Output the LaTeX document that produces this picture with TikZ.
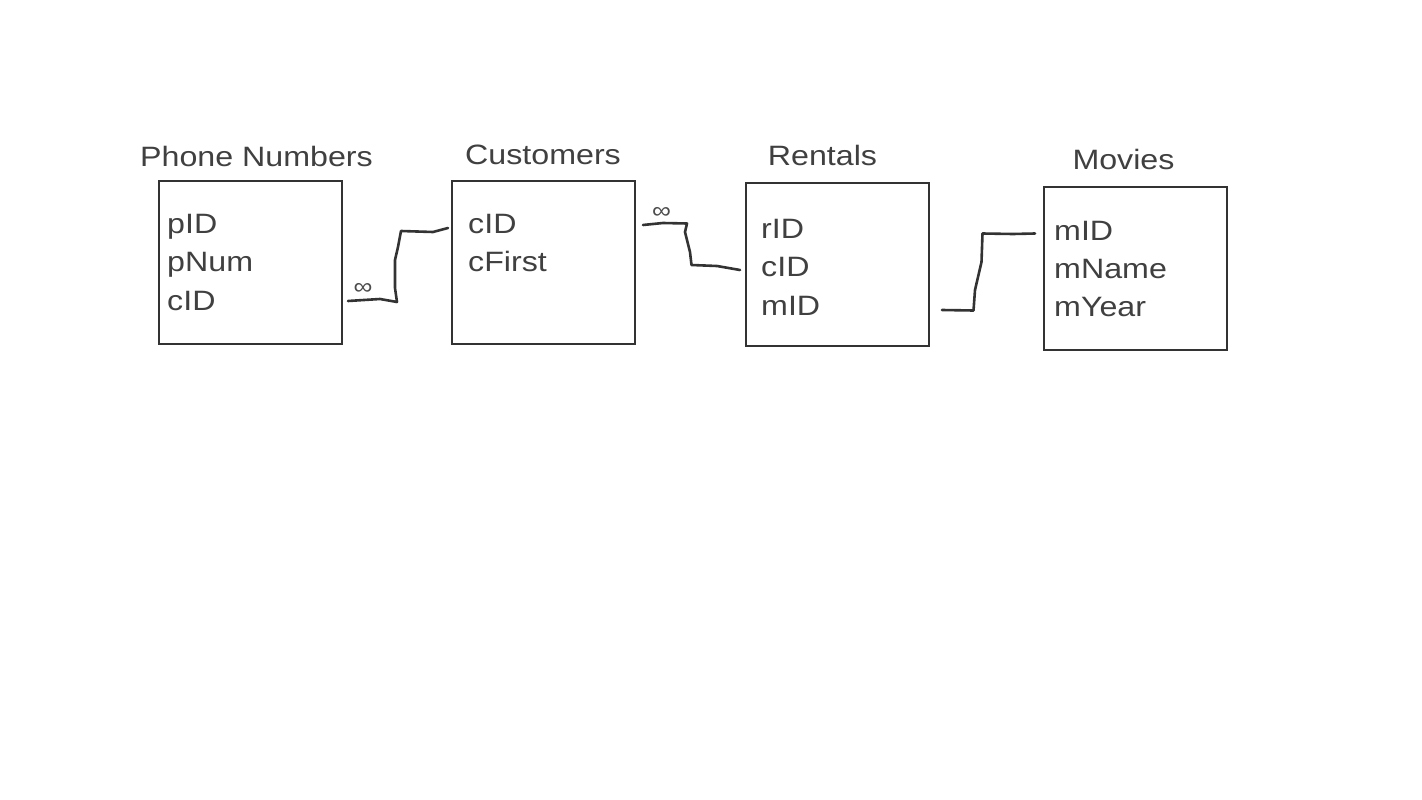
\documentclass[tikz,border=0pt]{standalone}
\usepackage{fontspec}
\newfontfamily\slidefont[FakeStretch=1.15]{Liberation Sans}
\begin{document}
\begin{tikzpicture}[x=1pt,y=-1pt,
    table/.style={draw=black!80, line width=2pt, minimum width=183pt, minimum height=163pt, inner sep=0pt, outer sep=0pt},
    title/.style={anchor=base, inner sep=0pt, text=black!75, font=\slidefont\fontsize{28}{34}\selectfont},
    field/.style={anchor=base west, inner sep=0pt, text=black!75, font=\slidefont\fontsize{28}{34}\selectfont},
    link/.style={draw=black!80, line width=2.6pt, line join=round, line cap=round},
    many/.style={inner sep=0pt, text=black!70, font=\slidefont\fontsize{23}{26}\selectfont}]
            \useasboundingbox (0,0) rectangle (1422,800);
            % tables
            \node[table] (phone) at (250.5,262.5) {};
            \node[table] (cust) at (543.5,262.5) {};
            \node[table] (rent) at (837.5,264.5) {};
            \node[table] (movie) at (1135.5,268.5) {};
            % titles
            \node[title] (tphone) at (256.5,166) {Phone Numbers};
            \node[title] (tcust) at (543,164) {Customers};
            \node[title] (trent) at (822.5,165) {Rentals};
            \node[title] (tmovie) at (1123.5,169) {Movies};
            % fields
            \node[field] (ppid) at (167,233) {pID};
            \node[field] (ppnum) at (167,271.5) {pNum};
            \node[field] (pcid) at (167,310) {cID};
            \node[field] (ccid) at (468,233) {cID};
            \node[field] (ccfirst) at (468,271.5) {cFirst};
            \node[field] (rrid) at (761,238) {rID};
            \node[field] (rcid) at (761,276.5) {cID};
            \node[field] (rmid) at (761,315) {mID};
            \node[field] (mmid) at (1054,240) {mID};
            \node[field] (mmname) at (1054,278) {mName};
            \node[field] (mmyear) at (1054,316.5) {mYear};
            % links
            \draw[link] ([xshift=6pt,yshift=-38.5pt]phone.east) -- (380,299) -- (397,302) -- (395,288) -- (395,260) -- (398,247) -- (401,231) -- (433,232) -- ([xshift=-4pt,yshift=34.5pt]cust.west);
            \node[many] (inf1) at (363,289) {∞};
            \draw[link] ([xshift=8pt,yshift=37.5pt]cust.east) -- (663,223) -- (687,223.5) -- (685,232) -- (690,252) -- (691.5,265) -- (717,266) -- ([xshift=-6pt,yshift=-5.5pt]rent.west);
            \node[many] (inf2) at (661.5,212.5) {∞};
            \draw[link] ([xshift=13pt,yshift=-45.5pt]rent.east) -- (973.5,310.5) -- (975,290) -- (981.5,262) -- (982.5,233.5) -- (1013,234) -- ([xshift=-9pt,yshift=35pt]movie.west);
        \end{tikzpicture}
\end{document}
